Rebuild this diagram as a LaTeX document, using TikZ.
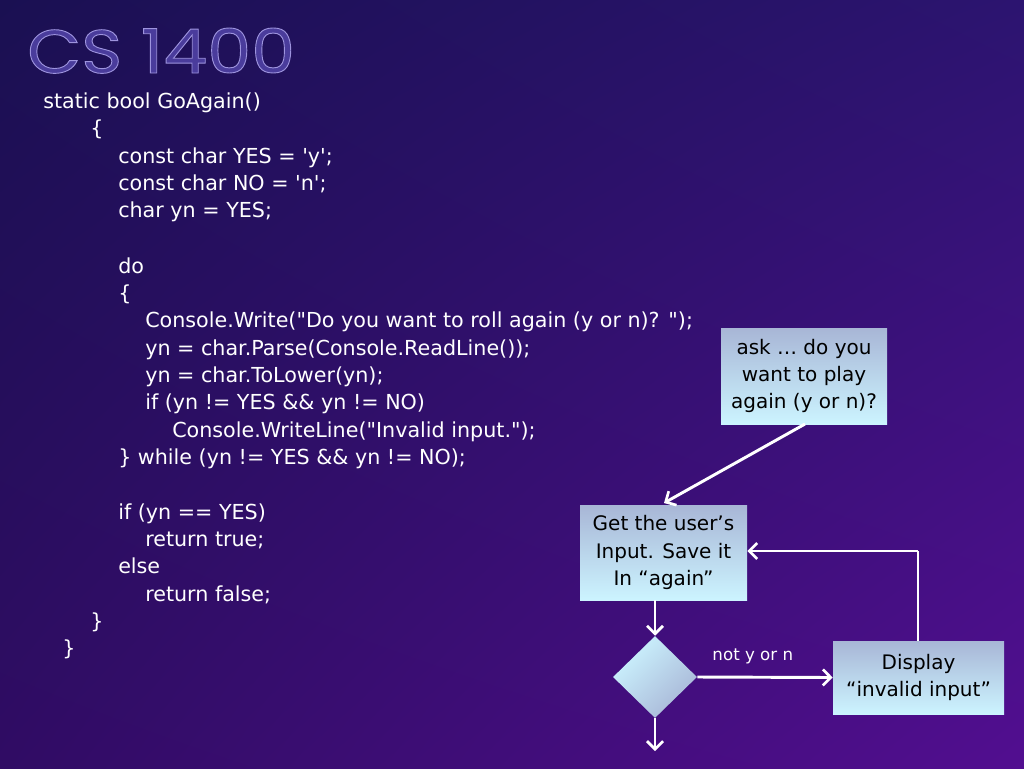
\documentclass[tikz,border=0pt]{standalone}
\usepackage{fontspec}
\setmainfont{DejaVu Sans}
\newfontfamily\codefont{DejaVu Sans}
\newfontfamily\titlefont{Poppins}[FakeBold=1.5,FakeStretch=1.14]
\usetikzlibrary{arrows.meta,shapes.geometric,shadings}
\definecolor{bgTL}{HTML}{1A1052}
\definecolor{bgTR}{HTML}{2C1470}
\definecolor{bgBL}{HTML}{300C64}
\definecolor{bgBR}{HTML}{520E90}
\definecolor{boxtop}{HTML}{A8B6D6}
\definecolor{boxbot}{HTML}{CCF4FF}
\definecolor{titlefill}{HTML}{4A3C9C}
\tikzset{
  code/.style={anchor=west, text=white, font=\codefont\fontsize{15.5}{18}\selectfont, inner sep=0pt, text height=14pt, text depth=3.5pt},
  flowbox/.style={rectangle, top color=boxtop, bottom color=boxbot, align=center, text=black, font=\fontsize{15}{20.3}\selectfont, inner sep=0pt},
  flowarrow/.style={draw=white, line width=2.2pt, -{Straight Barb[length=6pt,width=12pt,line width=2pt]}},
  flowline/.style={draw=white, line width=2.2pt},
  smalllabel/.style={text=white, font=\fontsize{12.5}{14}\selectfont, inner sep=0pt}
}
\begin{document}
\begin{tikzpicture}[x=0.75pt,y=-0.75pt]
\useasboundingbox (0,0) rectangle (1024,768);
\shade[upper left=bgTL, upper right=bgTR, lower left=bgBL, lower right=bgBR] (0,0) rectangle (1024,768);
% title (outlined)
\node[anchor=base west, inner sep=0pt, text=titlefill, text depth=0pt, font=\titlefont\fontsize{46}{50}\selectfont] (title) at (27,73) {\special{pdf:code 0.62 0.58 0.87 RG}CS 1400};
% code
\node[code] (l1) at (43,101) {static bool GoAgain()};
\node[code] (l2) at (90,128) {\{};
\node[code] (l3) at (118,156) {const char YES = 'y';};
\node[code] (l4) at (118,183) {const char NO = 'n';};
\node[code] (l5) at (118,210) {char yn = YES;};
\node[code] (l6) at (118,266) {do};
\node[code] (l7) at (118,293) {\{};
\node[code] (l8) at (145,320) {Console.Write("Do you want to roll again (y or n)? ");};
\node[code] (l9) at (145,348) {yn = char.Parse(Console.ReadLine());};
\node[code] (l10) at (145,375) {yn = char.ToLower(yn);};
\node[code] (l11) at (145,402) {if (yn != YES \&\& yn != NO)};
\node[code] (l12) at (172,430) {Console.WriteLine("Invalid input.");};
\node[code] (l13) at (118,457) {\} while (yn != YES \&\& yn != NO);};
\node[code] (l14) at (118,512) {if (yn == YES)};
\node[code] (l15) at (145,539) {return true;};
\node[code] (l16) at (118,566) {else};
\node[code] (l17) at (145,594) {return false;};
\node[code] (l18) at (90,621) {\}};
\node[code] (l19) at (62,648) {\}};
% flowchart
\node[flowbox, minimum width=166*0.75pt, minimum height=96*0.75pt] (ask) at (804,376) {ask … do you\\want to play\\again (y or n)?};
\node[flowbox, minimum width=167*0.75pt, minimum height=95*0.75pt] (get) at (663.5,552.5) {Get the user’s\\Input. Save it\\In “again”};
\node[diamond, shading=axis, left color=boxbot, right color=boxtop, shading angle=45, minimum width=84*0.75pt, minimum height=82*0.75pt, inner sep=0pt] (dec) at (655,677) {};
\node[flowbox, minimum width=171*0.75pt, minimum height=73*0.75pt] (disp) at (918.5,677.5) {Display\\“invalid input”};
\coordinate (askout) at (805,424);
\coordinate (getin) at (664,503);
\coordinate (loopc) at (918,551);
\coordinate (exitp) at (655,751);
\draw[flowarrow] (askout) -- (getin);
\draw[flowarrow] (get.south -| dec.north) -- (dec.north);
\draw[flowarrow] (dec.east) -- (disp.west) node[smalllabel, pos=0.41, above=9pt] (lbl) {not y or n};
\draw[flowline] (disp.north -| loopc) -- (loopc);
\draw[flowarrow] (loopc) -- (get.east |- loopc);
\draw[flowarrow] (dec.south) -- (exitp);
\end{tikzpicture}
\end{document}
